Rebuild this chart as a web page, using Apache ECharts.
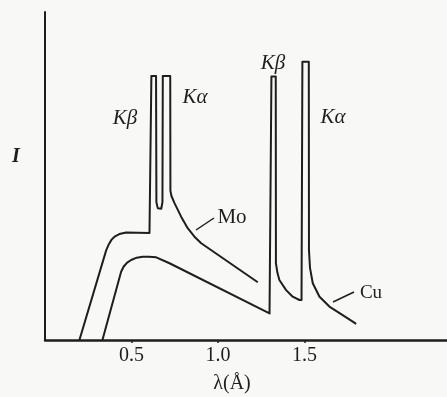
<!DOCTYPE html>
<html>
<head>
<meta charset="utf-8">
<script src="https://cdn.jsdelivr.net/npm/echarts@6/dist/echarts.min.js"></script>
<style>
  html, body { margin: 0; padding: 0; background: #f8f8f7; }
  #chart { width: 447px; height: 397px; }
</style>
</head>
<body>
<div id="chart"></div>
<script>
// wavelength in angstrom, intensity in arbitrary units (axis top = 100)
var tickValues = [0.5, 1.0, 1.5];

var moWavelength = [0.199, 0.354, 0.370, 0.385, 0.402, 0.430, 0.469, 0.604, 0.613, 0.615, 0.642, 0.644, 0.652, 0.672, 0.679, 0.681, 0.724, 0.725, 0.731, 0.748, 0.787, 0.825, 0.864, 0.903, 1.230];
var moIntensity  = [0,     27.4,  29.3,  30.6,  31.5,  32.3,  32.8,  32.6,  32.6,  80.5,  80.5,  42.0,  40.2,  40.0,  42.0,  80.5,  80.5,  45.5,  43.9,  41.8,  37.6,  34.1,  31.5,  29.5,  17.6];

var cuWavelength = [0.332, 0.440, 0.455, 0.475, 0.498, 0.530, 0.565, 0.600, 0.643, 0.720, 1.298, 1.306, 1.309, 1.334, 1.335, 1.344, 1.355, 1.394, 1.432, 1.471, 1.483, 1.488, 1.525, 1.526, 1.532, 1.548, 1.587, 1.644, 1.721, 1.799];
var cuIntensity  = [0,     20.8,  22.4,  23.6,  24.4,  25.1,  25.4,  25.4,  25.2,  23.4,  8.1,   8.1,   80.3,  80.3,  23.4,  20.4,  18.3,  15.2,  13.2,  12.2,  12.2,  84.8,  84.8,  27.4,  22.0,  17.3,  13.2,  10.2,  7.6,   4.9];

function pairs(xs, ys) {
    var out = [];
    for (var i = 0; i < xs.length; i++) {
        out.push([xs[i], ys[i]]);
    }
    return out;
}

var serif = '"Liberation Serif", "DejaVu Serif", serif';
var ink = '#1e1e1e';

function label(text, x, y, font) {
    return {
        type: 'text',
        x: x,
        y: y,
        style: {
            text: text,
            font: font + ' ' + serif,
            fill: ink,
            align: 'center',
            verticalAlign: 'middle'
        }
    };
}

function leader(x1, y1, x2, y2) {
    return {
        type: 'line',
        shape: {x1: x1, y1: y1, x2: x2, y2: y2},
        style: {stroke: ink, lineWidth: 1.5}
    };
}

var myChart = echarts.init(document.getElementById('chart'));

var option = {
    animation: false,
    backgroundColor: '#f8f8f7',
    grid: {left: 45, right: 0, top: 12, bottom: 57},
    xAxis: {
        type: 'value',
        min: 0,
        max: 2.324,
        interval: 0.5,
        axisLine: {lineStyle: {color: ink, width: 2.5}},
        axisTick: {show: true, length: 3, customValues: tickValues, lineStyle: {color: ink, width: 1.5}},
        axisLabel: {
            customValues: tickValues,
            margin: 6,
            color: ink,
            fontFamily: serif,
            fontSize: 20,
            formatter: function (v) { return v.toFixed(1); }
        },
        splitLine: {show: false}
    },
    yAxis: {
        type: 'value',
        min: 0,
        max: 100,
        axisLine: {show: true, lineStyle: {color: ink, width: 2}},
        axisTick: {show: false},
        axisLabel: {show: false},
        splitLine: {show: false}
    },
    series: [
        {
            name: 'Mo',
            type: 'line',
            data: pairs(moWavelength, moIntensity),
            showSymbol: false,
            lineStyle: {color: ink, width: 2, join: 'round'}
        },
        {
            name: 'Cu',
            type: 'line',
            data: pairs(cuWavelength, cuIntensity),
            showSymbol: false,
            lineStyle: {color: ink, width: 2, join: 'round'}
        }
    ],
    graphic: [
        label('I', 16, 157, 'italic bold 20px'),
        label('λ(Å)', 232, 384, '20px'),
        label('Kβ', 125, 118, 'italic 21px'),
        label('Kα', 195, 97, 'italic 21px'),
        label('Kβ', 273, 63, 'italic 21px'),
        label('Kα', 333, 117, 'italic 21px'),
        label('Mo', 232, 217, '21px'),
        label('Cu', 371, 293, '19px'),
        leader(196, 230, 214, 218),
        leader(333, 302, 354, 292)
    ]
};

myChart.setOption(option);
</script>
</body>
</html>
